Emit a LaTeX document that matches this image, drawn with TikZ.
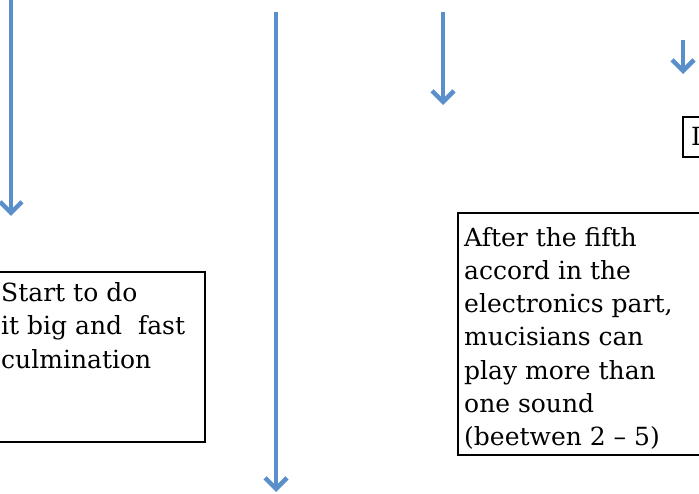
\documentclass[tikz,border=0pt]{standalone}
\usepackage{fontspec}
\setmainfont{DejaVu Serif}
\usetikzlibrary{arrows.meta}
\definecolor{arrowblue}{HTML}{5B8FCB}
\tikzset{
  flowarrow/.style={draw=arrowblue, line width=4.5pt, -{Straight Barb[length=11pt,width=22pt,line width=4.5pt]}},
  notebox/.style={draw=black, line width=1.5pt},
  notetext/.style={anchor=base west, inner sep=0pt, font=\fontsize{25}{33}\selectfont}
}
\begin{document}
\begin{tikzpicture}[x=1pt,y=-1pt]
\useasboundingbox (0,0) rectangle (699,494);
\clip (0,0) rectangle (699,494);
% arrows
\coordinate (a1s) at (11,-5);   \coordinate (a1e) at (11,216);
\coordinate (a2s) at (276,12);  \coordinate (a2e) at (276,492);
\coordinate (a3s) at (443,12);  \coordinate (a3e) at (443,105);
\coordinate (a4s) at (683,40);  \coordinate (a4e) at (683,74);
\draw[flowarrow] (a1s) -- (a1e);
\draw[flowarrow] (a2s) -- (a2e);
\draw[flowarrow] (a3s) -- (a3e);
\draw[flowarrow] (a4s) -- (a4e);
% left box
\draw[notebox] (-20,272) rectangle (205,442);
\node[notetext] (l1) at (1,302) {Start to do};
\node[notetext] (l2) at (1,335) {it big and\ \ fast};
\node[notetext] (l3) at (1,368) {culmination};
% right box
\draw[notebox] (458,213) rectangle (720,455);
\node[notetext] (r1) at (464,247) {After the fifth};
\node[notetext] (r2) at (464,280) {accord in the};
\node[notetext] (r3) at (464,313) {electronics part,};
\node[notetext] (r4) at (464,346) {mucisians can};
\node[notetext] (r5) at (464,379) {play more than};
\node[notetext] (r6) at (464,412) {one sound};
\node[notetext] (r7) at (464,445) {(beetwen 2 – 5)};
% top-right box
\draw[notebox] (683,117) rectangle (720,157);
\node[notetext] (t1) at (691,146) {I};
\end{tikzpicture}
\end{document}
